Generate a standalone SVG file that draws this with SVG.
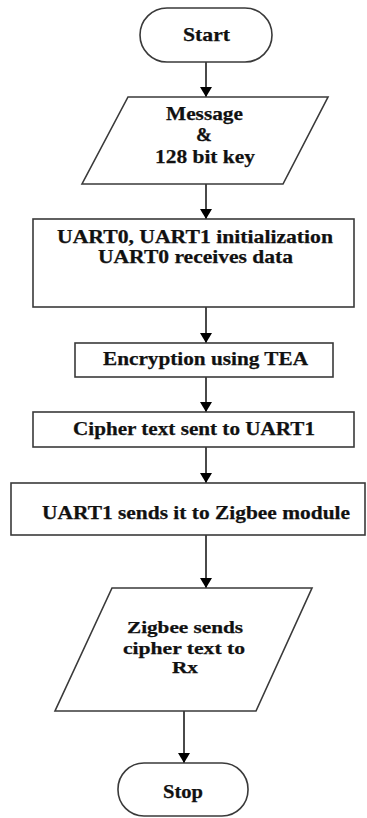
<svg xmlns="http://www.w3.org/2000/svg" width="367" height="818" viewBox="0 0 367 818">
  <style>
    .shape { fill: #ffffff; stroke: #3a3a3a; stroke-width: 1.6; }
    .label { font-family: 'Liberation Serif', 'DejaVu Serif', serif; font-weight: bold; font-size: 19px; fill: #111111; text-anchor: middle; stroke: #111111; stroke-width: 0.25; }
    .small { font-size: 17px; }
    .flow { stroke: #4a4a4a; stroke-width: 2; fill: none; marker-end: url(#head); }
  </style>
  <defs>
    <marker id="head" markerUnits="userSpaceOnUse" markerWidth="12" markerHeight="12" refX="10" refY="6" orient="auto">
      <path d="M0,0 L10,6 L0,12 Z" fill="#000000"/>
    </marker>
  </defs>
  <rect width="367" height="818" fill="#ffffff"/>

  <!-- connectors -->
  <g id="connectors">
    <line class="flow" x1="206" y1="62" x2="206" y2="97"/>
    <line class="flow" x1="206" y1="184" x2="206" y2="219"/>
    <line class="flow" x1="206" y1="307" x2="206" y2="343"/>
    <line class="flow" x1="206" y1="377" x2="206" y2="412"/>
    <line class="flow" x1="206" y1="447" x2="206" y2="483"/>
    <line class="flow" x1="206" y1="535" x2="206" y2="588"/>
    <line class="flow" x1="184" y1="711" x2="184" y2="763"/>
  </g>

  <g font-family="Liberation Serif, DejaVu Serif, serif">
  <g id="start">
    <rect class="shape" x="140" y="8" width="132" height="54" rx="27" ry="27"/>
    <text class="label" x="206.5" y="41" textLength="47" lengthAdjust="spacingAndGlyphs">Start</text>
  </g>

  <g id="input">
    <polygon class="shape" points="128,97 328,97 283,184 82,184"/>
    <text class="label" x="204.5" y="120" textLength="77" lengthAdjust="spacingAndGlyphs">Message</text>
    <text class="label" x="204" y="141">&amp;</text>
    <text class="label" x="205" y="163" textLength="100" lengthAdjust="spacingAndGlyphs">128 bit key</text>
  </g>

  <g id="init">
    <rect class="shape" x="33" y="219" width="321" height="88"/>
    <text class="label" x="195" y="243" textLength="276" lengthAdjust="spacingAndGlyphs">UART0, UART1 initialization</text>
    <text class="label" x="195.5" y="263" textLength="195" lengthAdjust="spacingAndGlyphs">UART0 receives data</text>
  </g>

  <g id="encrypt">
    <rect class="shape" x="75" y="343" width="258" height="34"/>
    <text class="label" x="205.5" y="365" textLength="205" lengthAdjust="spacingAndGlyphs">Encryption using TEA</text>
  </g>

  <g id="cipher">
    <rect class="shape" x="33" y="412" width="321" height="35"/>
    <text class="label" x="194" y="435" textLength="242" lengthAdjust="spacingAndGlyphs">Cipher text sent to UART1</text>
  </g>

  <g id="forward">
    <rect class="shape" x="11" y="483" width="354" height="52"/>
    <text class="label" x="196" y="519" textLength="308" lengthAdjust="spacingAndGlyphs">UART1 sends it to Zigbee module</text>
  </g>

  <g id="transmit">
    <polygon class="shape" points="112,588 312,588 256,711 55,711"/>
    <text class="label small" x="185" y="633" textLength="116" lengthAdjust="spacingAndGlyphs">Zigbee sends</text>
    <text class="label small" x="184" y="654" textLength="122" lengthAdjust="spacingAndGlyphs">cipher text to</text>
    <text class="label small" x="185" y="673" textLength="26" lengthAdjust="spacingAndGlyphs">Rx</text>
  </g>

  <g id="stop">
    <rect class="shape" x="118" y="763" width="130" height="53" rx="26" ry="26"/>
    <text class="label" x="183" y="798" textLength="40" lengthAdjust="spacingAndGlyphs">Stop</text>
  </g>
  </g>
</svg>
